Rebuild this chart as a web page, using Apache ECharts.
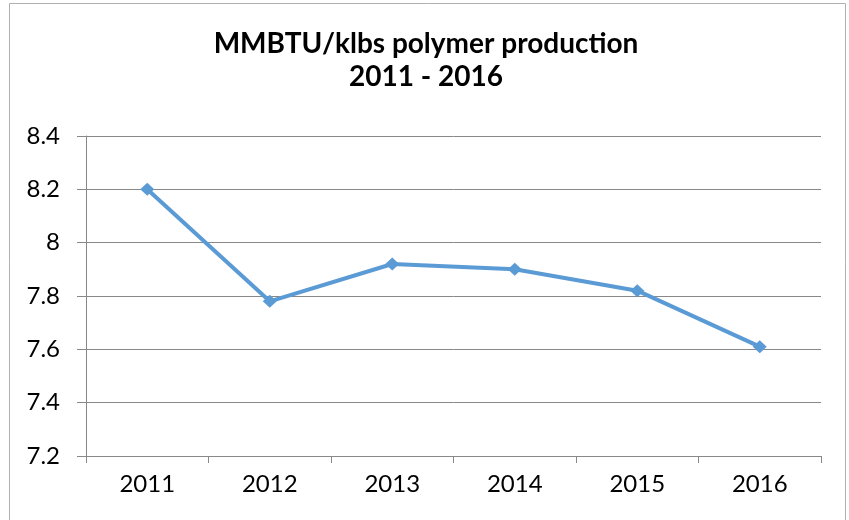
<!DOCTYPE html>
<html>
<head>
<meta charset="utf-8">
<script src="https://cdn.jsdelivr.net/npm/echarts@6/dist/echarts.min.js"></script>
<style>
  html, body { margin: 0; padding: 0; background: #fff; }
  #chart { width: 849px; height: 520px; }
</style>
</head>
<body>
<div id="chart"></div>
<script>
var years = ['2011', '2012', '2013', '2014', '2015', '2016'];
var values = [8.2, 7.78, 7.92, 7.9, 7.82, 7.61];
var yTicks = [7.2, 8.4, 0.2]; // min, max, step

var chart = echarts.init(document.getElementById('chart'));
var font = 'Lato, "Open Sans", sans-serif';

var option = {
  animation: false,
  backgroundColor: '#fff',
  graphic: [{
    type: 'rect',
    shape: { x: 9.5, y: 3.5, width: 836, height: 530 },
    style: { fill: 'none', stroke: '#b0b0b0', lineWidth: 1 },
    silent: true
  }],
  title: {
    text: 'MMBTU/klbs polymer production\n2011 - 2016',
    left: 421,
    top: 22,
    textAlign: 'center',
    textStyle: {
      fontFamily: font,
      fontSize: 28,
      fontWeight: 'bold',
      color: '#000',
      lineHeight: 33
    }
  },
  grid: { left: 86, right: 28, top: 136, bottom: 64 },
  xAxis: {
    type: 'category',
    data: years,
    boundaryGap: true,
    axisLine: { lineStyle: { color: '#888', width: 1 } },
    axisTick: { show: true, length: 7, lineStyle: { color: '#888' } },
    axisLabel: { color: '#000', fontSize: 24, fontFamily: font, margin: 16 },
    splitLine: { show: false }
  },
  yAxis: {
    type: 'value',
    min: yTicks[0],
    max: yTicks[1],
    interval: yTicks[2],
    axisLine: { show: true, lineStyle: { color: '#888', width: 1 } },
    axisTick: { show: true, length: 9, lineStyle: { color: '#888' } },
    axisLabel: { color: '#000', fontSize: 24, fontFamily: font, margin: 26 },
    splitLine: { show: true, lineStyle: { color: '#888', width: 1 } }
  },
  series: [{
    type: 'line',
    data: values,
    symbol: 'diamond',
    symbolSize: [14, 13],
    lineStyle: { color: '#5b9bd5', width: 4 },
    itemStyle: { color: '#5b9bd5' }
  }]
};
chart.setOption(option);
</script>
</body>
</html>
